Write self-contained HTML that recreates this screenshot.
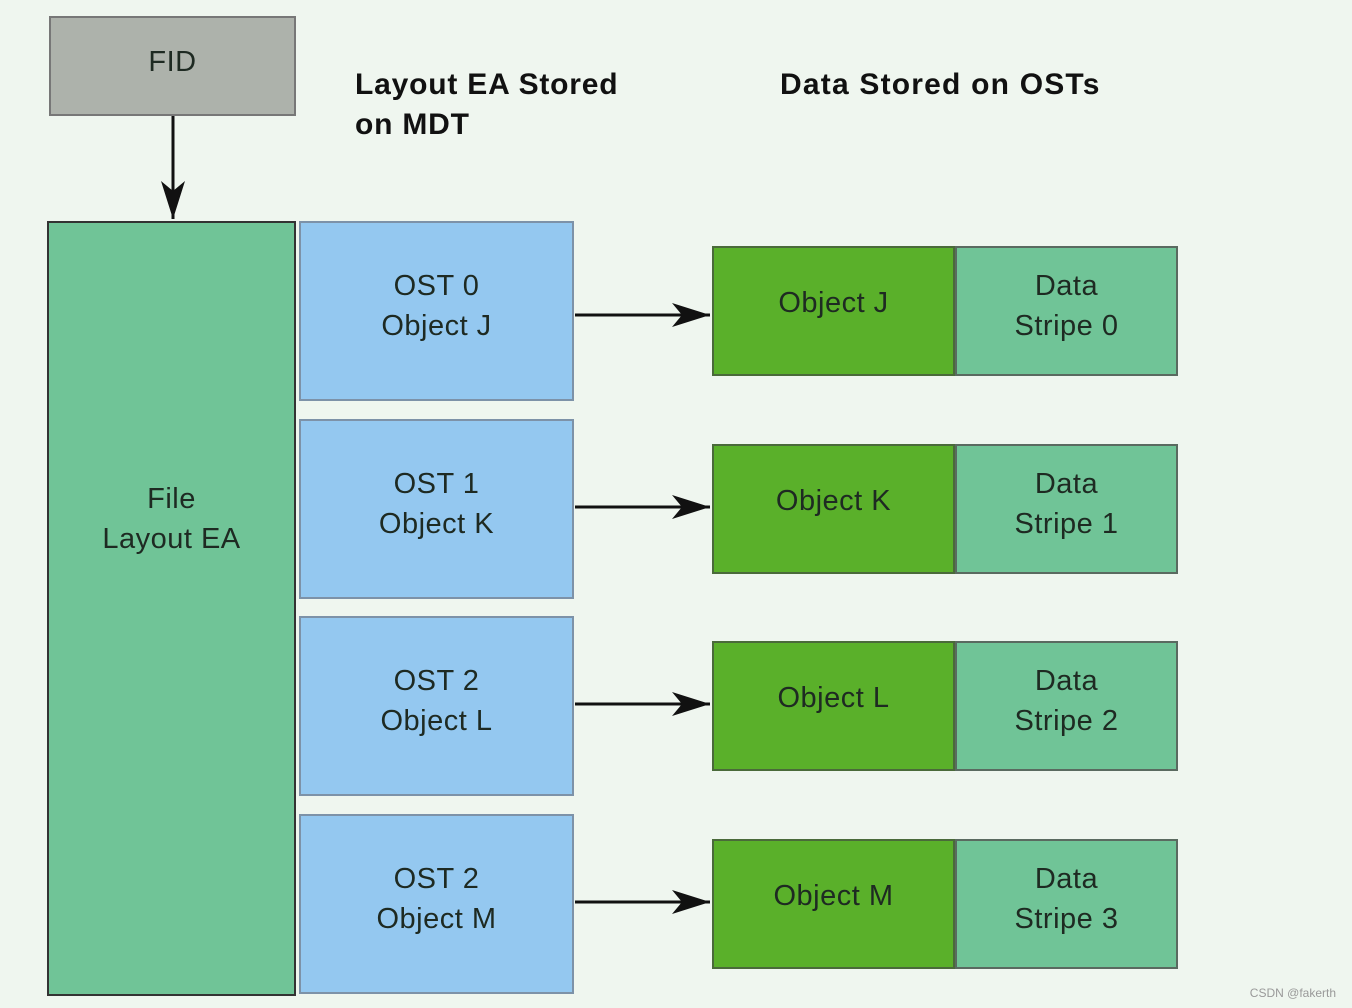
<!DOCTYPE html>
<html><head><style>
body{margin:0;width:1352px;height:1008px;background:#eff6ef;position:relative;overflow:hidden;font-family:"Liberation Sans",sans-serif}
.b{position:absolute;box-sizing:border-box;display:flex;align-items:center;justify-content:center;text-align:center;font-size:29px;line-height:40px;color:#1e2a22;letter-spacing:0.5px}
.blue{background:#94c8f0;border:2px solid #7d92a8;left:299px;width:275px;height:180px;padding-bottom:10px}
.obj{background:#5ab02a;border:2px solid #4a6a3a;left:712px;width:243px;height:130px}
.ds{background:#70c497;border:2px solid #5a6a60;left:955px;width:223px;height:130px;padding-bottom:10px}
.h{position:absolute;font-weight:bold;font-size:30px;line-height:40px;color:#111;letter-spacing:0.8px}
</style></head><body>
<div class="b" style="left:49px;top:16px;width:247px;height:100px;background:#adb2ab;border:2px solid #777;align-items:flex-start;padding-top:24px">FID</div>
<div class="h" style="left:355px;top:65px">Layout EA Stored<br>on MDT</div>
<div class="h" style="left:780px;top:65px;letter-spacing:1.2px">Data Stored on OSTs</div>
<div class="b" style="left:47px;top:221px;width:249px;height:775px;background:#70c497;border:2px solid #333;padding-bottom:180px">File<br>Layout EA</div>
<div class="b blue" style="top:221px">OST 0<br>Object J</div>
<div class="b blue" style="top:419px">OST 1<br>Object K</div>
<div class="b blue" style="top:616px">OST 2<br>Object L</div>
<div class="b blue" style="top:814px">OST 2<br>Object M</div>
<div class="b obj" style="top:246px;padding-bottom:16px">Object J</div>
<div class="b obj" style="top:444px;padding-bottom:16px">Object K</div>
<div class="b obj" style="top:641px;padding-bottom:16px">Object L</div>
<div class="b obj" style="top:839px;padding-bottom:16px">Object M</div>
<div class="b ds" style="top:246px">Data<br>Stripe 0</div>
<div class="b ds" style="top:444px">Data<br>Stripe 1</div>
<div class="b ds" style="top:641px">Data<br>Stripe 2</div>
<div class="b ds" style="top:839px">Data<br>Stripe 3</div>
<svg width="1352" height="1008" style="position:absolute;left:0;top:0">
<defs><marker id="c" markerWidth="40" markerHeight="24" refX="38" refY="12" orient="auto" markerUnits="userSpaceOnUse"><path d="M0,0 L38,12 L0,24 L10,12 Z" fill="#111"/></marker></defs>
<line x1="173" y1="116" x2="173" y2="219" stroke="#111" stroke-width="3" marker-end="url(#c)"/>
<line x1="575" y1="315" x2="710" y2="315" stroke="#111" stroke-width="3" marker-end="url(#c)"/>
<line x1="575" y1="507" x2="710" y2="507" stroke="#111" stroke-width="3" marker-end="url(#c)"/>
<line x1="575" y1="704" x2="710" y2="704" stroke="#111" stroke-width="3" marker-end="url(#c)"/>
<line x1="575" y1="902" x2="710" y2="902" stroke="#111" stroke-width="3" marker-end="url(#c)"/>
</svg>
<div style="position:absolute;right:16px;bottom:8px;font-size:12px;color:#999">CSDN @fakerth</div>
</body></html>
